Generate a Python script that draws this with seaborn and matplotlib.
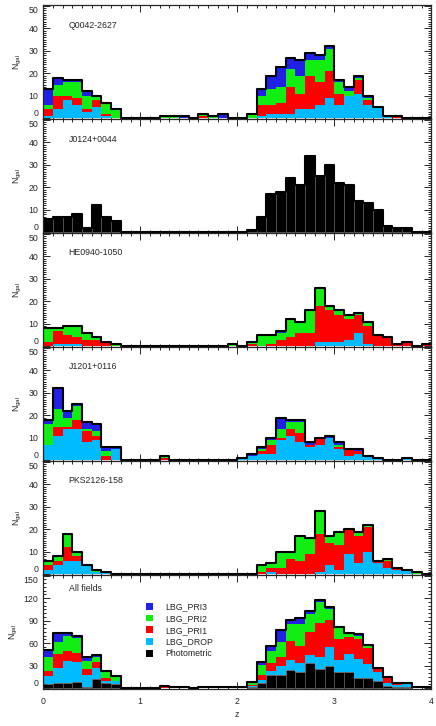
import numpy as np
import pandas as pd
import matplotlib
matplotlib.use("Agg")
import matplotlib.pyplot as plt
import seaborn as sns
from matplotlib.patches import Patch
from matplotlib.ticker import MultipleLocator

# redshift bins 0..4, width 0.1
bin_edges = [round(0.1 * i, 1) for i in range(41)]

# ---- Q0042-2627 ----
q0042_pri3 = [7, 3, 1, 1, 2, 0, 0, 0,  0, 0, 0, 0, 0, 0, 1, 0,  0, 0, 2, 0, 0, 0, 3, 6,  9, 5, 7, 3, 2, 1, 1, 2,  1, 1, 0, 0, 0, 0, 0, 0]
q0042_pri2 = [2, 5, 6, 7, 6, 2, 5, 4,  0, 0, 0, 0, 1, 1, 0, 0,  1, 1, 0, 0, 0, 2, 4, 7,  7, 8, 8, 7, 10, 10, 5, 2,  1, 1, 0, 0, 0, 0, 0, 0]
q0042_pri1 = [3, 6, 2, 3, 1, 3, 1, 0,  0, 0, 0, 0, 0, 0, 0, 0,  1, 0, 0, 0, 0, 0, 5, 4,  5, 12, 7, 15, 10, 12, 5, 0,  6, 2, 0, 0, 1, 0, 0, 0]
q0042_drop = [1, 4, 8, 6, 3, 5, 1, 0,  0, 0, 0, 0, 0, 0, 0, 0,  0, 0, 0, 0, 0, 0, 1, 2,  2, 2, 4, 4, 6, 9, 6, 10,  11, 6, 5, 1, 0, 0, 0, 0]

# ---- J0124+0044 (photometric only) ----
j0124_phot = [6, 7, 7, 8, 2, 12, 7, 5,  0, 0, 0, 0, 0, 0, 0, 0,  0, 0, 0, 0, 0, 1, 7, 17,  18, 24, 21, 34, 25, 30, 22, 21,  14, 13, 10, 3, 2, 2, 0, 0]

# ---- HE0940-1050 ----
he0940_pri3 = [0, 0, 0, 0, 0, 0, 0, 0,  0, 0, 0, 0, 0, 0, 0, 0,  0, 0, 0, 0, 0, 0, 0, 0,  1, 0, 0, 0, 0, 0, 0, 0,  0, 0, 0, 0, 0, 0, 0, 0]
he0940_pri2 = [6, 1, 4, 5, 3, 1, 0, 1,  0, 0, 0, 0, 0, 0, 0, 0,  0, 0, 0, 1, 0, 1, 5, 4,  3, 8, 5, 10, 8, 2, 2, 2,  1, 2, 0, 0, 0, 0, 0, 0]
he0940_pri1 = [2, 6, 4, 3, 3, 3, 2, 0,  0, 0, 0, 0, 0, 0, 0, 0,  0, 0, 0, 0, 0, 1, 0, 1,  3, 4, 6, 6, 16, 14, 12, 9,  8, 8, 5, 4, 1, 2, 0, 1]
he0940_drop = [0, 1, 1, 1, 0, 0, 0, 0,  0, 0, 0, 0, 0, 0, 0, 0,  0, 0, 0, 0, 0, 0, 0, 0,  0, 0, 0, 0, 2, 2, 2, 3,  6, 1, 0, 0, 0, 0, 0, 0]

# ---- J1201+0116 ----
j1201_pri3 = [2, 9, 3, 1, 3, 3, 2, 1,  0, 0, 0, 0, 0, 0, 0, 0,  0, 0, 0, 0, 0, 1, 1, 1,  5, 1, 1, 1, 0, 1, 1, 0,  1, 0, 0, 0, 0, 0, 0, 0]
j1201_pri2 = [9, 8, 4, 6, 1, 2, 2, 0,  0, 0, 0, 0, 1, 0, 0, 0,  0, 0, 0, 0, 0, 0, 1, 2,  4, 3, 5, 0, 0, 0, 1, 0,  0, 0, 0, 0, 0, 0, 0, 0]
j1201_pri1 = [0, 4, 1, 4, 5, 2, 2, 0,  0, 0, 0, 0, 1, 0, 0, 0,  0, 0, 0, 0, 0, 0, 1, 4,  1, 3, 4, 1, 3, 0, 1, 3,  1, 0, 0, 0, 0, 0, 0, 0]
j1201_drop = [7, 11, 14, 14, 8, 9, 0, 5,  0, 0, 0, 0, 0, 0, 0, 0,  0, 0, 0, 0, 1, 2, 3, 3,  9, 11, 8, 6, 7, 10, 5, 2,  3, 2, 1, 0, 0, 1, 0, 0]

# ---- PKS2126-158 ----
pks2126_pri3 = [0] * 40
pks2126_pri2 = [2, 2, 6, 2, 0, 1, 0, 0,  0, 0, 0, 0, 0, 0, 0, 0,  0, 0, 0, 0, 0, 0, 3, 2,  7, 3, 11, 7, 10, 3, 6, 0,  2, 1, 0, 1, 0, 0, 1, 0]
pks2126_pri1 = [2, 2, 6, 2, 0, 0, 0, 0,  0, 0, 0, 0, 0, 0, 0, 0,  0, 0, 0, 0, 0, 0, 1, 2,  3, 7, 6, 9, 17, 10, 11, 11,  12, 11, 1, 3, 1, 0, 0, 0]
pks2126_drop = [2, 4, 6, 6, 4, 1, 1, 0,  0, 0, 0, 0, 0, 0, 0, 0,  0, 0, 0, 0, 0, 0, 0, 1,  0, 0, 0, 0, 1, 4, 2, 9,  5, 10, 5, 3, 2, 2, 0, 0]

categories = ["LBG_PRI3", "LBG_PRI2", "LBG_PRI1", "LBG_DROP", "Photometric"]
colors = ["#2020e6", "#11ee11", "#ff0000", "#00bbff", "#000000"]
zero = [0] * 40

fields = {
    "Q0042-2627": [q0042_pri3, q0042_pri2, q0042_pri1, q0042_drop, zero],
    "J0124+0044": [zero, zero, zero, zero, j0124_phot],
    "HE0940-1050": [he0940_pri3, he0940_pri2, he0940_pri1, he0940_drop, zero],
    "J1201+0116": [j1201_pri3, j1201_pri2, j1201_pri1, j1201_drop, zero],
    "PKS2126-158": [pks2126_pri3, pks2126_pri2, pks2126_pri1, pks2126_drop, zero],
}
# all fields = sum over the individual fields
fields["All fields"] = [np.sum([f[k] for f in list(fields.values())], axis=0) for k in range(5)]

sns.set_style("ticks")
plt.rcParams['font.family'] = ['Liberation Sans', 'DejaVu Sans']
plt.rcParams['mathtext.fontset'] = 'custom'
plt.rcParams['mathtext.rm'] = 'Liberation Sans'
plt.rcParams['mathtext.it'] = 'Liberation Sans:italic'
FS = 6.3

fig, axes = plt.subplots(6, 1, figsize=(4.36, 7.26), dpi=100, sharex=True)
fig.subplots_adjust(left=0.0993, right=0.989, top=0.993, bottom=0.051, hspace=0)

centers = [round(0.1 * i + 0.05, 2) for i in range(40)]
pal = dict(zip(categories, colors))

for ax, (name, counts) in zip(axes, fields.items()):
    df = pd.concat([pd.DataFrame({"z": centers, "n": np.asarray(c, float), "cat": cat})
                    for cat, c in zip(categories, counts)], ignore_index=True)
    sns.histplot(data=df, x="z", weights="n", hue="cat", hue_order=categories,
                 multiple="stack", bins=bin_edges, palette=pal, alpha=1,
                 linewidth=0, legend=False, ax=ax)
    # separators on the black (photometric) bars
    for p in ax.patches:
        if tuple(p.get_facecolor()[:3]) == (0.0, 0.0, 0.0) and p.get_height() > 0:
            p.set_edgecolor("0.35")
            p.set_linewidth(0.5)
    total = np.sum(counts, axis=0).astype(float)
    sns.histplot(x=centers, weights=total, bins=bin_edges, element="step", fill=False,
                 color="black", linewidth=1.5, ax=ax)

    ax.set_xlim(0, 4)
    ax.xaxis.set_major_locator(MultipleLocator(1))
    ax.xaxis.set_minor_locator(MultipleLocator(0.1))
    if name == "All fields":
        ax.set_ylim(-1, 151)
        ax.set_yticks(range(0, 151, 30))
        ax.yaxis.set_minor_locator(MultipleLocator(5))
        ax.text(0.065, 0.885, name, transform=ax.transAxes, fontsize=FS, va="center")
    else:
        ax.set_ylim(-0.3, 50.4)
        ax.set_yticks(range(0, 51, 10))
        ax.yaxis.set_minor_locator(MultipleLocator(1))
        ax.text(0.065, 0.825, name, transform=ax.transAxes, fontsize=FS, va="center")
    ylabs = ax.get_yticklabels()
    ylabs[0].set_va("bottom")
    ylabs[-1].set_va("top")
    ax.tick_params(which="both", direction="in", top=True, right=True, labelsize=FS, width=0.7)
    ax.tick_params(which="major", length=5)
    ax.tick_params(which="minor", length=2.5)
    ax.tick_params(axis="x", pad=6)
    ax.set_ylabel(r"N$_{\rm gal}$", fontsize=FS, labelpad=3)
    ax.set_xlabel("")
    for s in ax.spines.values():
        s.set_linewidth(0.9)

axes[-1].set_xlabel("z", fontsize=FS, labelpad=3)
handles = [Patch(facecolor=c, edgecolor="none") for c in colors]
axes[-1].legend(handles, categories, loc="upper left", bbox_to_anchor=(0.265, 0.76),
                frameon=False, fontsize=FS, handlelength=0.8, handleheight=0.8,
                handletextpad=1.4, labelspacing=0.31, borderaxespad=0, borderpad=0)

fig.savefig("out.png", dpi=100)
